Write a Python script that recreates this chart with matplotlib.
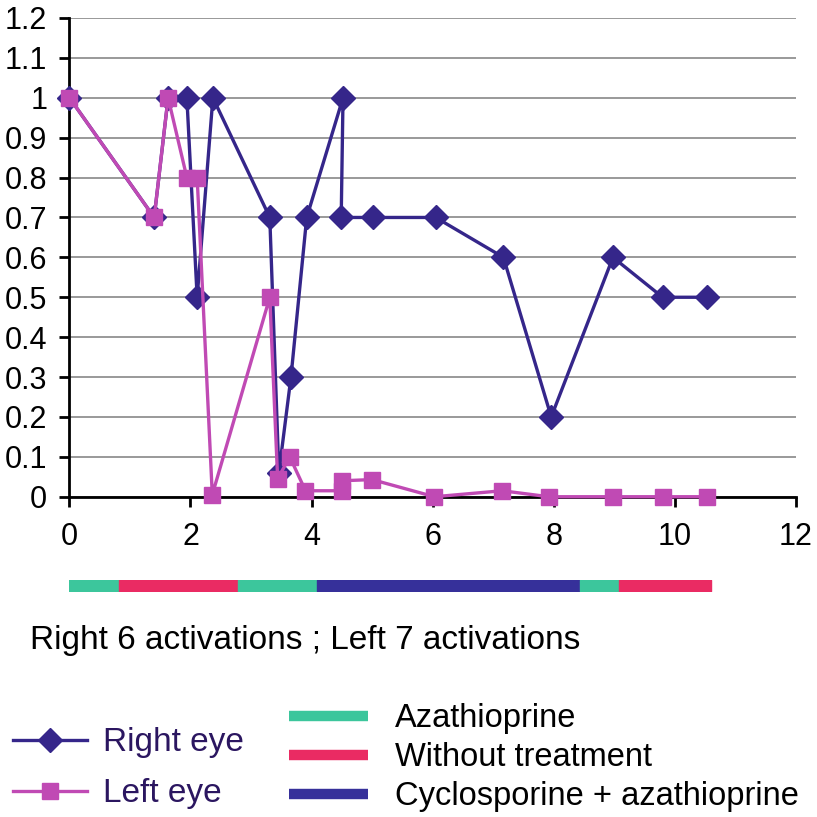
import matplotlib.pyplot as plt
from matplotlib.lines import Line2D

# visual acuity series (months on x)
right_x = [0, 1.40, 1.63, 1.94, 2.11, 2.37, 3.31, 3.46, 3.66, 3.92, 4.52, 4.49,
           5.01, 6.05, 7.17, 7.96, 8.98, 9.80, 10.54]
right_y = [1.0, 0.7, 1.0, 1.0, 0.5, 1.0, 0.7, 0.06, 0.3, 0.7, 1.0, 0.7,
           0.7, 0.7, 0.6, 0.2, 0.6, 0.5, 0.5]
left_x = [0, 1.40, 1.63, 1.94, 2.11, 2.36, 3.31, 3.44, 3.64, 3.90, 4.5, 4.5,
          5.0, 6.03, 7.15, 7.92, 8.98, 9.80, 10.53]
left_y = [1.0, 0.7, 1.0, 0.8, 0.8, 0.005, 0.5, 0.045, 0.1, 0.015, 0.015, 0.04,
          0.043, 0.0, 0.015, 0.0, 0.0, 0.0, 0.0]

# treatment periods
treat_start = [-0.03, 0.82, 2.78, 4.09, 8.43, 9.08]
treat_end = [0.82, 2.78, 4.09, 8.43, 9.08, 10.6]
treat_kind = ["aza", "none", "aza", "cyc", "aza", "none"]

treat_names = {"aza": "Azathioprine", "none": "Without treatment",
               "cyc": "Cyclosporine + azathioprine"}
treat_colors = {"aza": "#3cc69c", "none": "#ea2b63", "cyc": "#36309a"}

x_ticks = [0, 2, 4, 6, 8, 10, 12]
y_ticks = [0, 0.1, 0.2, 0.3, 0.4, 0.5, 0.6, 0.7, 0.8, 0.9, 1, 1.1, 1.2]
y_labels = ["0", "0.1", "0.2", "0.3", "0.4", "0.5", "0.6", "0.7", "0.8", "0.9", "1", "1.1", "1.2"]

RIGHT_C = "#35268a"
LEFT_C = "#c04ab4"
TEXT_C = "#2b1660"

plt.rcParams['font.family'] = ['Liberation Sans', 'DejaVu Sans']
FS = 24
TICK_FS = 22

fig = plt.figure(figsize=(8.17, 8.17), dpi=100)
ax = fig.add_axes([0.085, 0.392, 0.889, 0.586])

ax.plot(right_x, right_y, color=RIGHT_C, lw=2.4, marker='D', ms=12, zorder=3, clip_on=False)
ax.plot(left_x, left_y, color=LEFT_C, lw=2.4, marker='s', ms=12, zorder=4, clip_on=False)

ax.set_xlim(0, 12)
ax.set_ylim(0, 1.2)
ax.set_xticks(x_ticks)
ax.set_yticks(y_ticks)
ax.set_yticklabels(y_labels)
ax.grid(axis='y', color='#888888', lw=1.2)
ax.set_axisbelow(True)
for s in ['top', 'right']:
    ax.spines[s].set_visible(False)
for s in ['left', 'bottom']:
    ax.spines[s].set_linewidth(2)
ax.tick_params(axis='both', labelsize=TICK_FS, width=2, length=7, direction='out')
ax.tick_params(axis='y', pad=9)
ax.tick_params(axis='x', pad=11)

# treatment bar
bx = fig.add_axes([0.085, 0.2766, 0.889, 0.0135])
bx.set_xlim(0, 12)
bx.set_ylim(0, 1)
for s, e, k in zip(treat_start, treat_end, treat_kind):
    bx.broken_barh([(s, e - s)], (0, 1), color=treat_colors[k])
bx.axis('off')

fig.text(30 / 817, 1 - 640 / 817, "Right 6 activations ; Left 7 activations",
         fontsize=FS, va='center', ha='left', color='black')

h1 = [Line2D([], [], color=RIGHT_C, lw=2.4, marker='D', ms=12),
      Line2D([], [], color=LEFT_C, lw=2.4, marker='s', ms=12)]
leg1 = fig.legend(h1, ["Right eye", "Left eye"], loc='upper left',
                  bbox_to_anchor=(0.0, 1 - 714 / 817), frameon=False, fontsize=FS,
                  handlelength=2.2, handletextpad=0.5, labelspacing=0.6,
                  borderpad=0, borderaxespad=0.4)
for t in leg1.get_texts():
    t.set_color(TEXT_C)

h2 = [Line2D([], [], color=treat_colors[k], lw=7.5, solid_capstyle='butt')
      for k in ["aza", "none", "cyc"]]
fig.legend(h2, [treat_names[k] for k in ["aza", "none", "cyc"]], loc='upper left',
           bbox_to_anchor=(276 / 817, 1 - 690 / 817), frameon=False, fontsize=23.5,
           handlelength=2.42, handletextpad=0.82, labelspacing=0.25,
           borderpad=0, borderaxespad=0.4)

fig.savefig("out.png", dpi=100)
